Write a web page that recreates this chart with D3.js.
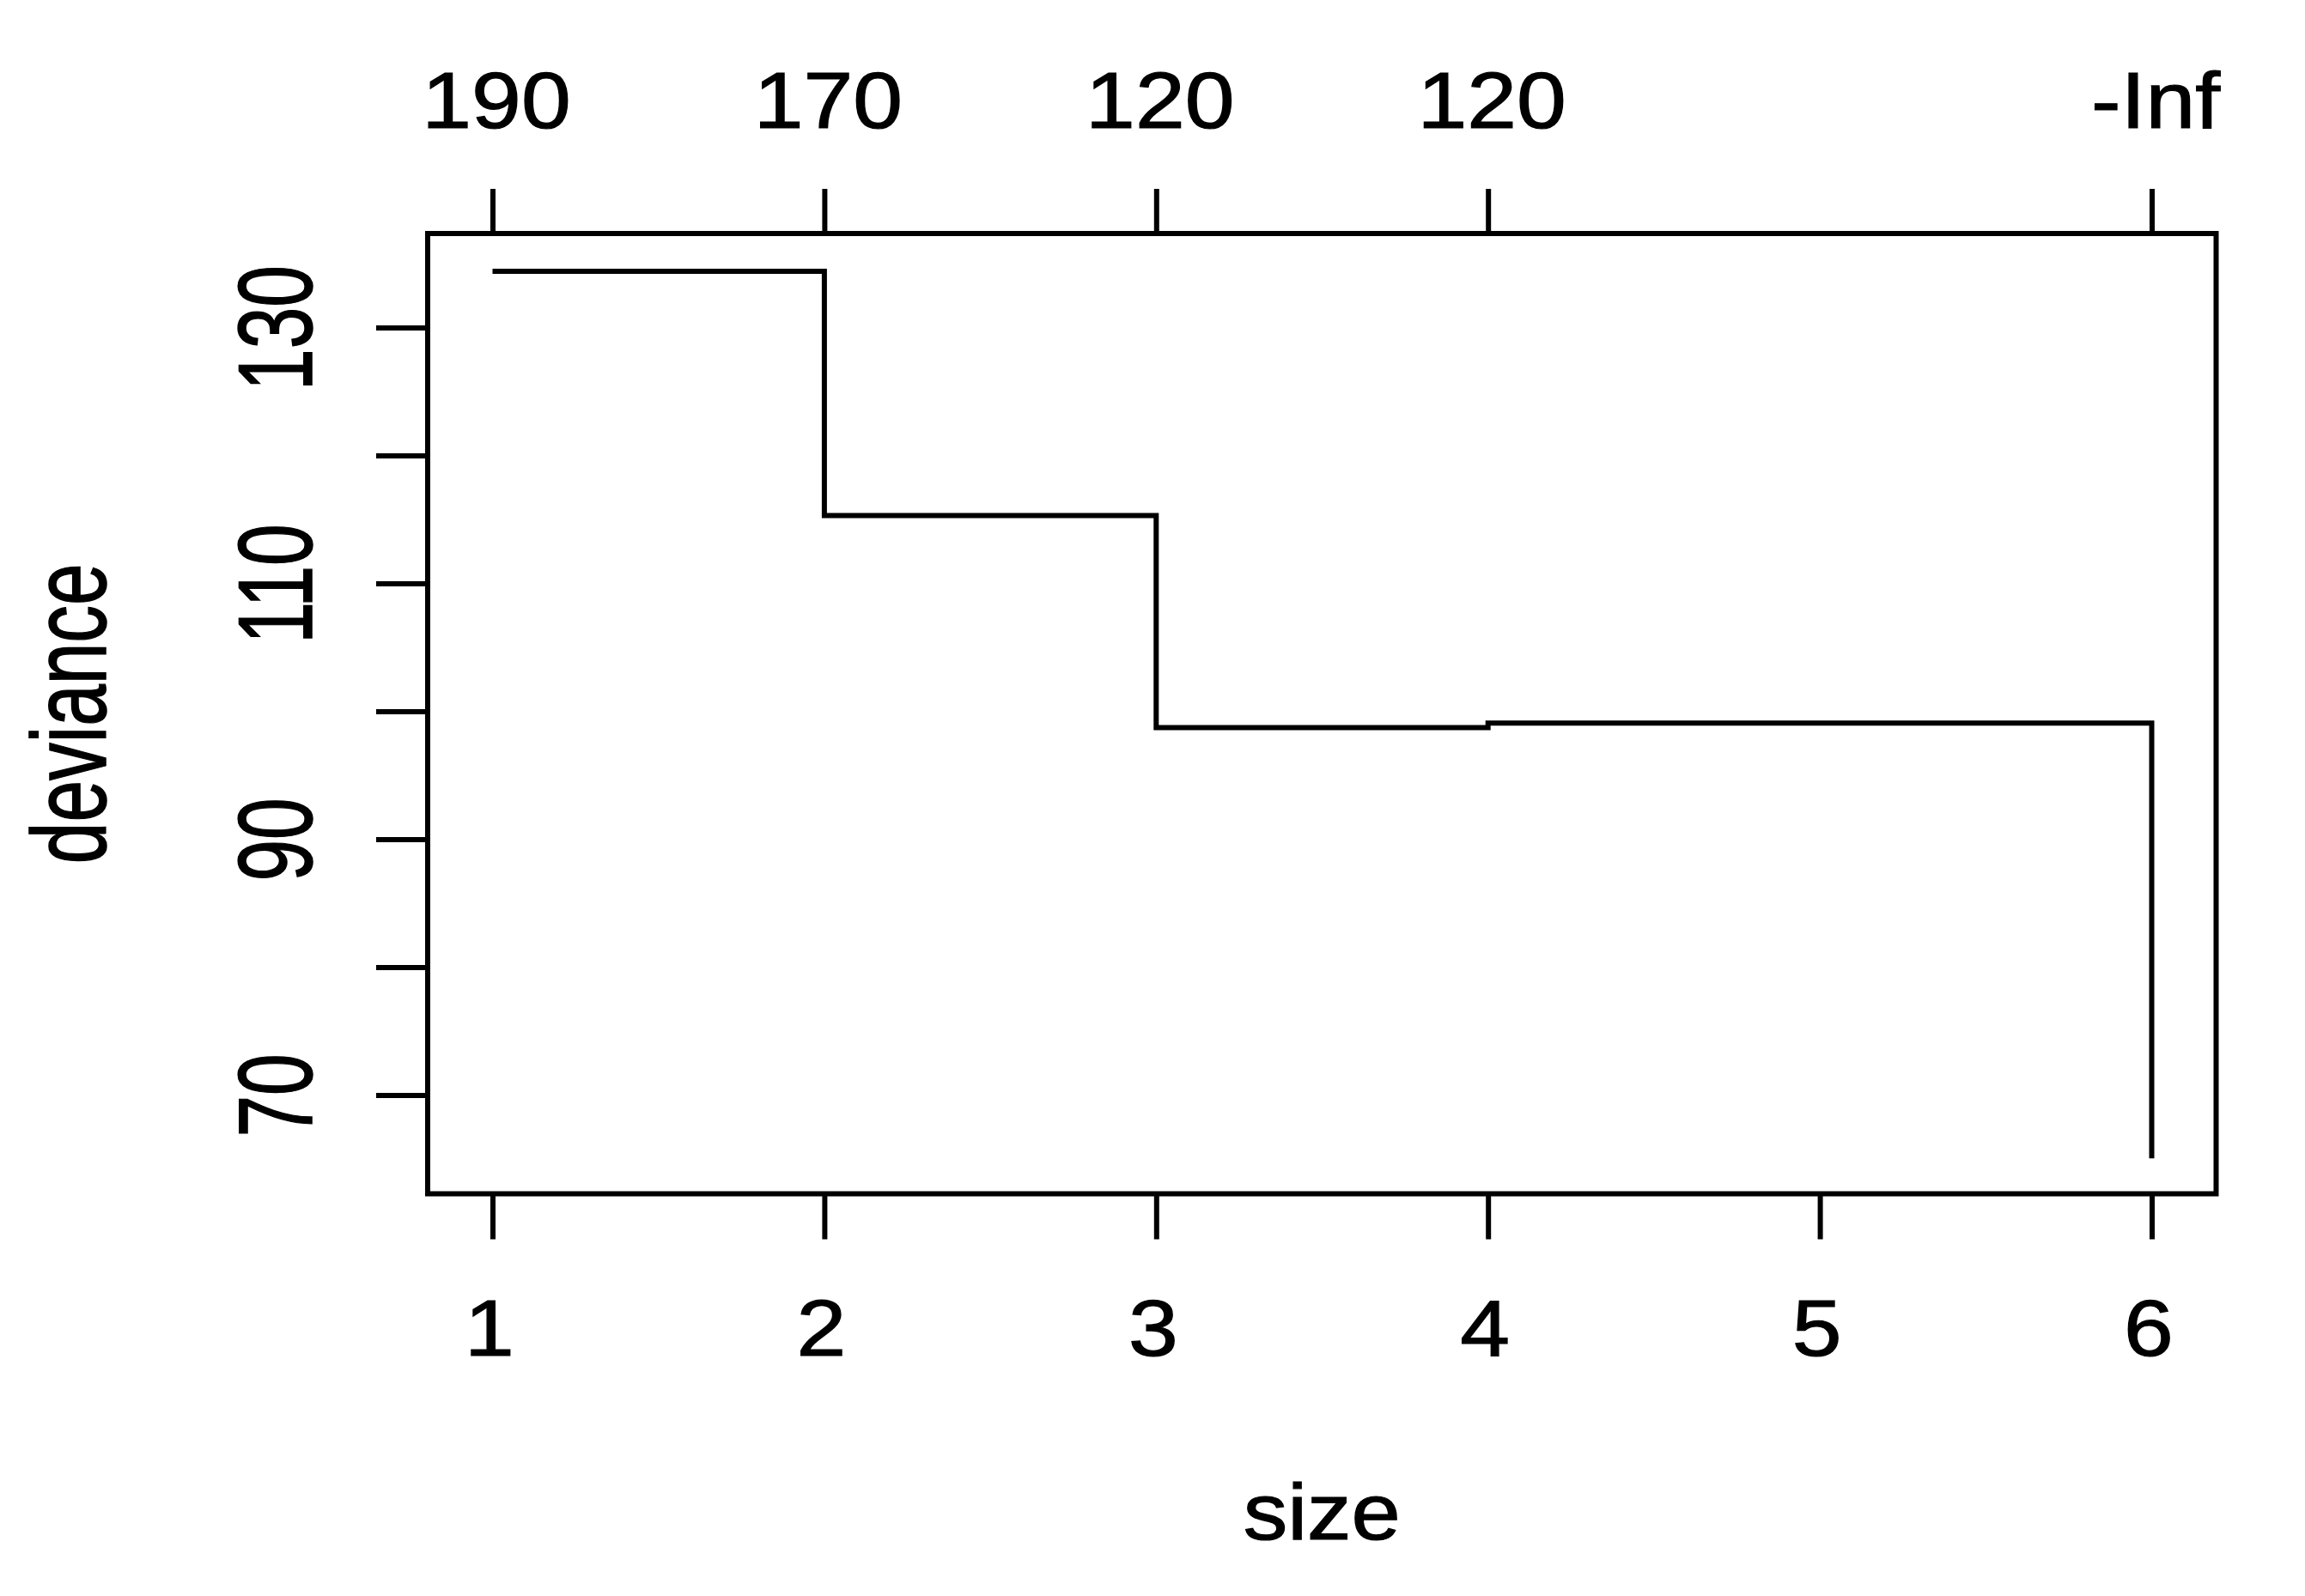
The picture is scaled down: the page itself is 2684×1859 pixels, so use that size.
<!DOCTYPE html>
<html>
<head>
<meta charset="utf-8">
<script src="https://cdn.jsdelivr.net/npm/d3@7"></script>
<style>
  html, body { margin: 0; padding: 0; background: #ffffff; }
  svg { display: block; }
</style>
</head>
<body>
<script>
// ---- data ----
const sizes = [1, 2, 3, 4, 6];
const deviance = [134.4, 115.3, 98.72, 99.07, 65.05];
const topLabels = ["190", "170", "120", "120", "-Inf"];
const bottomTicks = [1, 2, 3, 4, 5, 6];
const yTicks = [70, 80, 90, 100, 110, 120, 130];
const yTickLabels = ["70", "", "90", "", "110", "", "130"];
const xLabel = "size";
const yLabel = "deviance";

// ---- layout ----
const W = 2684, H = 1859;
const frame = { left: 498, right: 2580.5, top: 272, bottom: 1390.5 };
const FONT = "'Liberation Sans', Arial, sans-serif";
const FS = 92;
const LW = 6;
const TS = 1.2; // text stroke to mimic heavier raster text

const svg = d3.select("body").append("svg")
  .attr("width", W).attr("height", H)
  .attr("viewBox", `0 0 ${W} ${H}`);

svg.append("rect").attr("width", W).attr("height", H).attr("fill", "#fff");

const x = d3.scaleLinear().domain([1, 6]).range([573.5, 2505.5]);
const y = d3.scaleLinear().domain([70, 130]).range([1275.5, 381.5]);

// step line
const pts = sizes.map((s, i) => [s, deviance[i]]);
const line = d3.line().x(d => x(d[0])).y(d => y(d[1])).curve(d3.curveStepAfter);
svg.append("path")
  .attr("d", line(pts))
  .attr("fill", "none")
  .attr("stroke", "#000")
  .attr("stroke-width", LW)
  .attr("stroke-linejoin", "miter")
  .attr("stroke-linecap", "butt");

// frame
svg.append("rect")
  .attr("x", frame.left).attr("y", frame.top)
  .attr("width", frame.right - frame.left)
  .attr("height", frame.bottom - frame.top)
  .attr("fill", "none").attr("stroke", "#000").attr("stroke-width", LW);

function styleAxis(g) {
  g.select(".domain").remove();
  g.selectAll(".tick line").attr("stroke", "#000").attr("stroke-width", LW);
  g.selectAll(".tick text")
    .attr("fill", "#000")
    .attr("stroke", "#000").attr("stroke-width", TS)
    .style("font-family", FONT)
    .style("font-size", FS + "px");
}

// bottom axis
const gB = svg.append("g")
  .attr("transform", `translate(0,${frame.bottom})`)
  .call(d3.axisBottom(x).tickValues(bottomTicks).tickSize(53).tickFormat(d3.format("d")));
styleAxis(gB);
gB.selectAll(".tick text")
  .attr("y", 0).attr("dy", 0)
  .attr("text-anchor", "middle")
  .attr("transform", `translate(-4,${1579 - frame.bottom}) scale(1.13,1)`);

// top axis
const gT = svg.append("g")
  .attr("transform", `translate(0,${frame.top})`)
  .call(d3.axisTop(x).tickValues(sizes).tickSize(52)
    .tickFormat((d, i) => topLabels[i]));
styleAxis(gT);
gT.selectAll(".tick text")
  .attr("y", 0).attr("dy", 0)
  .attr("text-anchor", "middle")
  .attr("transform", `translate(4,${149 - frame.top}) scale(1.13,1)`);

// left axis
const gL = svg.append("g")
  .attr("transform", `translate(${frame.left},0)`)
  .call(d3.axisLeft(y).tickValues(yTicks).tickSize(60)
    .tickFormat((d, i) => yTickLabels[i]));
styleAxis(gL);
gL.selectAll(".tick text")
  .attr("x", 0).attr("y", 0).attr("dy", 0)
  .attr("text-anchor", "middle")
  .attr("transform", `translate(${363 - frame.left},0) rotate(-90) scale(0.95,1.33)`);

// axis titles
svg.append("text")
  .attr("text-anchor", "middle")
  .attr("transform", `translate(${(frame.left + frame.right) / 2},1793) scale(1.12,1)`)
  .style("font-family", FONT).style("font-size", FS + "px")
  .attr("fill", "#000").attr("stroke", "#000").attr("stroke-width", TS)
  .text(xLabel);

svg.append("text")
  .attr("text-anchor", "middle")
  .attr("transform", `translate(123,${(frame.top + frame.bottom) / 2}) rotate(-90) scale(0.95,1.33)`)
  .style("font-family", FONT).style("font-size", FS + "px")
  .attr("fill", "#000").attr("stroke", "#000").attr("stroke-width", TS)
  .text(yLabel);
</script>
</body>
</html>
